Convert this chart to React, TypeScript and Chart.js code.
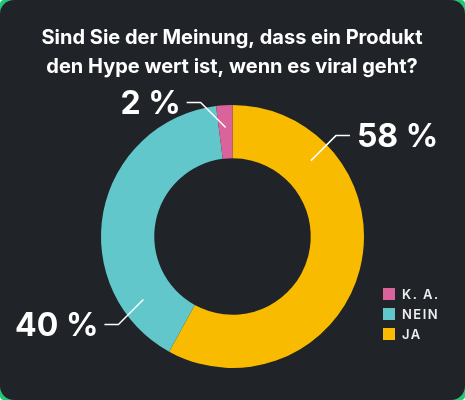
import React, { useEffect, useRef } from "react";
import { Chart, registerables } from "chart.js";

Chart.register(...registerables);

const titleLines = [
  "Sind Sie der Meinung, dass ein Produkt",
  "den Hype wert ist, wenn es viral geht?",
];
const categories = ["JA", "NEIN", "K. A."];
const values = [58, 40, 2];
const valueLabels = ["58 %", "40 %", "2 %"];
const colors = ["#f9bb00", "#62c7cb", "#d9639a"];

const BG = "#202327";

const labelPlugin = {
  id: "leaderLabels",
  afterDraw(chart: any) {
    const ctx = chart.ctx as CanvasRenderingContext2D;
    const meta = chart.getDatasetMeta(0);
    const anchors = [
      { frac: 0.22, dx: 25, dy: -25, h: 14 },
      { frac: 0.18, dx: -25, dy: 25, h: -14 },
      { frac: 0.5, dx: -25, dy: -25, h: -14 },
    ];
    ctx.save();
    meta.data.forEach((arc: any, i: number) => {
      const p = arc.getProps(["x", "y", "startAngle", "endAngle", "innerRadius", "outerRadius"], true);
      const a = anchors[i];
      const ang = p.startAngle + (p.endAngle - p.startAngle) * a.frac;
      const r = p.innerRadius + (p.outerRadius - p.innerRadius) * 0.58;
      const sx = p.x + Math.cos(ang) * r;
      const sy = p.y + Math.sin(ang) * r;
      const ex = sx + a.dx;
      const ey = sy + a.dy;
      const hx = ex + a.h;
      ctx.strokeStyle = "#ffffff";
      ctx.lineWidth = 1.5;
      ctx.beginPath();
      ctx.moveTo(sx, sy);
      ctx.lineTo(ex, ey);
      ctx.lineTo(hx, ey);
      ctx.stroke();
      ctx.fillStyle = "#ffffff";
      ctx.font = "bold 32px Inter, 'Noto Sans', sans-serif";
      ctx.textBaseline = "middle";
      ctx.textAlign = a.h > 0 ? "left" : "right";
      ctx.fillText(valueLabels[i], hx + (a.h > 0 ? 7 : -6), ey + 2);
    });

    ctx.fillStyle = "#ffffff";
    ctx.font = "bold 20px Inter, 'Noto Sans', sans-serif";
    ctx.textAlign = "center";
    ctx.textBaseline = "alphabetic";
    titleLines.forEach((t, i) => ctx.fillText(t, 232, 44 + i * 29));

    const order = [2, 1, 0];
    ctx.font = "600 13px Inter, 'Noto Sans', sans-serif";
    (ctx as any).letterSpacing = "1.5px";
    ctx.textAlign = "left";
    ctx.textBaseline = "middle";
    order.forEach((idx, row) => {
      const y = 294 + row * 20;
      ctx.fillStyle = colors[idx];
      ctx.fillRect(383, y - 6, 12, 12);
      ctx.fillStyle = "#eeeeee";
      ctx.fillText(categories[idx], 402, y + 1);
    });
    ctx.restore();
  },
};

export default function App() {
  const ref = useRef<HTMLCanvasElement>(null);
  useEffect(() => {
    document.body.style.margin = "0";
    const chart = new Chart(ref.current!, {
      type: "doughnut",
      data: {
        labels: categories,
        datasets: [
          {
            data: values,
            backgroundColor: colors,
            borderWidth: 0,
          },
        ],
      },
      options: {
        animation: false,
        responsive: false,
        cutout: "59.5%",
        layout: { padding: { top: 105, bottom: 32, left: 0, right: 0 } },
        plugins: {
          legend: { display: false },
          tooltip: { enabled: false },
        },
      },
      plugins: [labelPlugin],
    });
    return () => chart.destroy();
  }, []);
  return (
    <div
      style={{
        position: "absolute",
        left: 0,
        top: 0,
        width: 465,
        height: 400,
        background: "#25c777",
        overflow: "hidden",
        borderRadius: 4,
      }}
    >
      <div
        style={{
          position: "absolute",
          left: 0,
          top: 0,
          width: 465,
          height: 400,
          background: BG,
          borderRadius: 14,
        }}
      >
        <canvas ref={ref} width={465} height={400} style={{ display: "block" }} />
      </div>
    </div>
  );
}
